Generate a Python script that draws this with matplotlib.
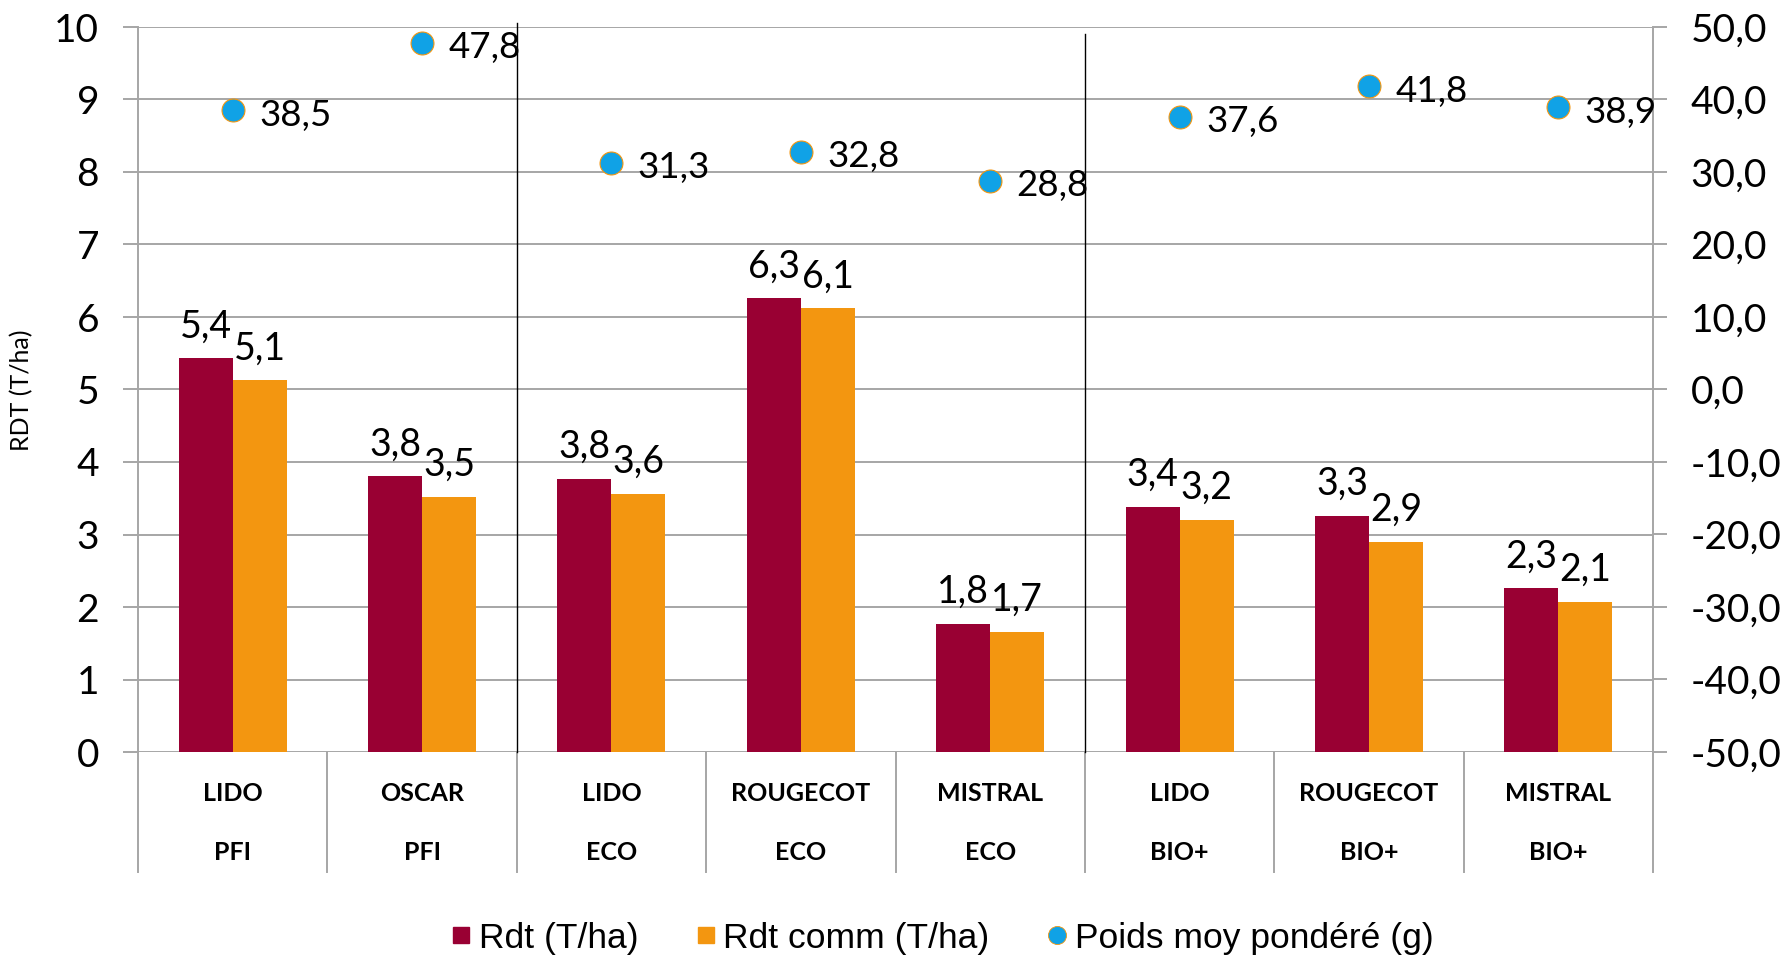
import matplotlib
matplotlib.use("Agg")
import matplotlib.pyplot as plt
from matplotlib.lines import Line2D
from matplotlib.ticker import FuncFormatter, MultipleLocator
from matplotlib.transforms import blended_transform_factory
import numpy as np

# donnees
varietes = ["LIDO", "OSCAR", "LIDO", "ROUGECOT", "MISTRAL", "LIDO", "ROUGECOT", "MISTRAL"]
systemes = ["PFI", "PFI", "ECO", "ECO", "ECO", "BIO+", "BIO+", "BIO+"]
rdt = [5.43, 3.80, 3.77, 6.26, 1.77, 3.38, 3.26, 2.26]
rdt_comm = [5.13, 3.52, 3.56, 6.12, 1.66, 3.20, 2.90, 2.07]
poids = [38.5, 47.8, 31.3, 32.8, 28.8, 37.6, 41.8, 38.9]
noms_series = ["Rdt (T/ha)", "Rdt comm (T/ha)", "Poids moy pondéré (g)"]

c_rdt = "#990033"
c_comm = "#F39610"
c_poids = "#10A2E6"
c_grille = "#A6A6A6"

plt.rcParams['font.family'] = ['Lato', 'DejaVu Sans']

def virgule(v, nb=1):
    return ("{:." + str(nb) + "f}").format(v).replace(".", ",")

fig = plt.figure(figsize=(17.84, 9.55), dpi=100)
ax = fig.add_axes([138/1784, 1-752/955, (1653-138)/1784, (752-27)/955])
ax2 = ax.twinx()

x = np.arange(len(varietes))
w = 0.285
ax.set_xlim(-0.5, len(varietes)-0.5)
ax.set_ylim(0, 10)
ax2.set_ylim(-50, 50)

ax.set_axisbelow(True)
ax.yaxis.grid(True, color=c_grille, lw=1.4)
ax.yaxis.set_major_locator(MultipleLocator(1))
ax2.yaxis.set_major_locator(MultipleLocator(10))
ax.yaxis.set_major_formatter(FuncFormatter(lambda v, p: "{:d}".format(int(round(v)))))
ax2.yaxis.set_major_formatter(FuncFormatter(lambda v, p: virgule(v)))

ax.bar(x - w/2, rdt, w, color=c_rdt, zorder=2)
ax.bar(x + w/2, rdt_comm, w, color=c_comm, zorder=2)

#etiquettes au dessus des barres
for i in range(len(x)):
    ax.annotate(virgule(rdt[i]), (x[i] - w/2, rdt[i]), xytext=(0, 15), textcoords='offset points',
                ha='center', va='baseline', fontsize=27, zorder=4)
    ax.annotate(virgule(rdt_comm[i]), (x[i] + w/2, rdt_comm[i]), xytext=(0, 15), textcoords='offset points',
                ha='center', va='baseline', fontsize=27, zorder=4)

ax2.plot(x, poids, linestyle='none', marker='o', markersize=16.5, markerfacecolor=c_poids,
         markeredgecolor=c_comm, markeredgewidth=0.8, zorder=5)
for i in range(len(x)):
    ax2.annotate(virgule(poids[i]), (x[i], poids[i]), xytext=(19, -11), textcoords='offset points',
                 ha='left', va='baseline', fontsize=26.5)

# axes et graduations
for s in ["top", "right", "bottom"]:
    ax.spines[s].set_visible(False)
for s in ["top", "left", "bottom"]:
    ax2.spines[s].set_visible(False)
ax.spines["left"].set_color(c_grille)
ax.spines["left"].set_linewidth(1.4)
ax2.spines["right"].set_color(c_grille)
ax2.spines["right"].set_linewidth(1.4)
ax.tick_params(axis='y', length=11, width=1.4, color=c_grille, pad=17, labelsize=28)
ax2.tick_params(axis='y', length=10, width=1.4, color=c_grille, pad=17, labelsize=28)
ax.tick_params(axis='x', length=0, labelbottom=False)

# separateurs des groupes PFI / ECO / BIO+
ax.plot([1.5, 1.5], [0, 10.05], color="black", lw=1.0, clip_on=False, zorder=3)
ax.plot([4.5, 4.5], [0, 9.9], color="black", lw=1.0, clip_on=False, zorder=3)

# etiquettes des categories sur deux lignes
trans = blended_transform_factory(ax.transData, ax.transAxes)
for i in range(len(x)):
    ax.text(x[i], -0.0566, varietes[i], transform=trans, ha='center', va='center',
            fontsize=18, fontweight='bold')
    ax.text(x[i], -0.138, systemes[i], transform=trans, ha='center', va='center',
            fontsize=18, fontweight='bold')
for b in np.arange(-0.5, len(x), 1.0):
    ax.plot([b, b], [0, -0.1655], transform=trans, color=c_grille, lw=1.4, clip_on=False)

fig.text(22/1784, 1-390/955, "RDT (T/ha)", rotation=90, ha='center', va='center', fontsize=18)

poignees = [Line2D([], [], linestyle='none', marker='s', markersize=11, color=c_rdt),
            Line2D([], [], linestyle='none', marker='s', markersize=11, color=c_comm),
            Line2D([], [], linestyle='none', marker='o', markersize=13, markerfacecolor=c_poids,
                   markeredgecolor=c_comm, markeredgewidth=0.6)]
fig.legend(poignees, noms_series, loc='center', bbox_to_anchor=(942/1784, 1-938/955), ncol=3,
           frameon=False, prop={'family': ['Liberation Sans'], 'size': 25.5},
           handlelength=0.6, handletextpad=0.2, columnspacing=1.6)

fig.savefig("out.png", dpi=100)
